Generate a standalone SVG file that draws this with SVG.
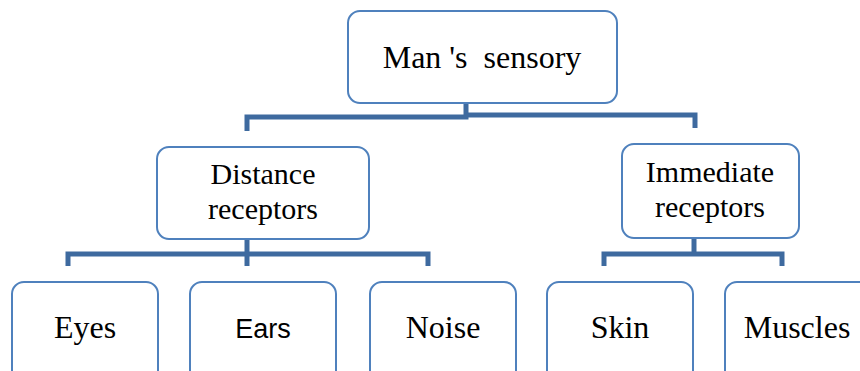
<svg xmlns="http://www.w3.org/2000/svg" width="860" height="371" viewBox="0 0 860 371">
<style>
.box{fill:#fff;stroke:#4F81BD;stroke-width:2}
.t{font-family:"Liberation Serif","Times New Roman",serif;font-size:32px;fill:#000;text-anchor:middle}
.t2{font-family:"Liberation Serif","Times New Roman",serif;font-size:30px;fill:#000;text-anchor:middle}
.s{font-family:"Liberation Sans",Arial,sans-serif;font-size:27px;fill:#000;text-anchor:middle}
.c{fill:none;stroke:#3E6A9F;stroke-width:5;stroke-linejoin:miter}
.stub{stroke:#E6ECF4;stroke-width:5}
</style>
<rect width="860" height="371" fill="#fff"/>
<g id="connectors">
<line class="stub" x1="465" y1="89" x2="465" y2="102"/>
<polyline class="c" points="247,131 247,117 466,117 466,102"/>
<polyline class="c" points="466,115 695,115 695,128"/>
<line class="stub" x1="247" y1="225" x2="247" y2="238"/>
<polyline class="c" points="68,266 68,254 428,254 428,266"/>
<line class="c" x1="247" y1="238" x2="247" y2="266"/>
<line class="stub" x1="694" y1="223" x2="694" y2="237"/>
<polyline class="c" points="604,266 604,254 782,254 782,266"/>
<line class="c" x1="694" y1="237" x2="694" y2="254"/>
</g>
<g id="n_man">
<rect class="box" x="348" y="11" width="269" height="92" rx="12"/>
<text class="t" x="482" y="68" xml:space="preserve">Man 's  sensory</text>
</g>
<g id="n_distance">
<rect class="box" x="157" y="147" width="212" height="92" rx="12"/>
<text class="t2" x="263" y="184">Distance</text>
<text class="t2" x="263" y="219">receptors</text>
</g>
<g id="n_immediate">
<rect class="box" x="622" y="144" width="177" height="94" rx="12"/>
<text class="t2" x="710" y="182">Immediate</text>
<text class="t2" x="710" y="217">receptors</text>
</g>
<g id="n_eyes">
<rect class="box" x="12" y="282" width="146" height="100" rx="12"/>
<text class="t" x="85" y="338">Eyes</text>
</g>
<g id="n_ears">
<rect class="box" x="190" y="282" width="146" height="100" rx="12"/>
<text class="s" x="263" y="338">Ears</text>
</g>
<g id="n_noise">
<rect class="box" x="370" y="282" width="146" height="100" rx="12"/>
<text class="t" x="443" y="338">Noise</text>
</g>
<g id="n_skin">
<rect class="box" x="547" y="282" width="146" height="100" rx="12"/>
<text class="t" x="620" y="338">Skin</text>
</g>
<g id="n_muscles">
<rect class="box" x="725" y="282" width="146" height="100" rx="12"/>
<text class="t" x="797" y="338">Muscles</text>
</g>
</svg>
